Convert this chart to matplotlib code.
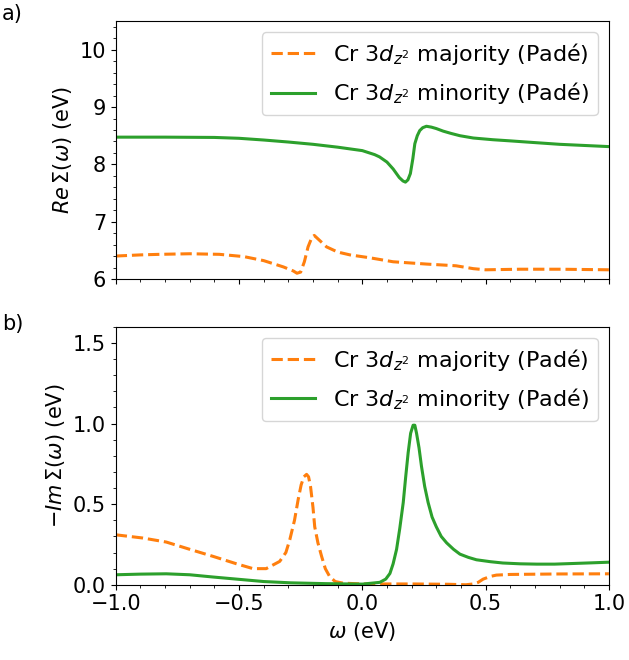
import numpy as np
import matplotlib
matplotlib.use("Agg")
from matplotlib import pyplot as plt
from matplotlib.ticker import AutoMinorLocator

# frequency grids and values
w_re_maj = [-1.0, -0.9, -0.82, -0.7, -0.58, -0.48, -0.40, -0.32, -0.28, -0.265, -0.25, -0.235,
            -0.22, -0.205, -0.195, -0.18, -0.145, -0.1, -0.05, 0.03, 0.125, 0.26, 0.38, 0.45,
            0.5, 0.64, 0.8, 1.0]
re_maj = [6.40, 6.42, 6.43, 6.44, 6.43, 6.39, 6.32, 6.21, 6.14, 6.10, 6.12, 6.30,
          6.56, 6.72, 6.76, 6.70, 6.56, 6.47, 6.42, 6.37, 6.30, 6.26, 6.23, 6.18,
          6.16, 6.17, 6.17, 6.16]

w_re_min = [-1.0, -0.8, -0.6, -0.5, -0.4, -0.3, -0.2, -0.1, 0.0, 0.05, 0.07, 0.1, 0.125,
            0.15, 0.165, 0.175, 0.185, 0.195, 0.205, 0.213, 0.223, 0.233, 0.245, 0.26,
            0.28, 0.3, 0.328, 0.36, 0.396, 0.45, 0.53, 0.6, 0.666, 0.8, 0.9, 1.0]
re_min = [8.475, 8.475, 8.47, 8.455, 8.425, 8.39, 8.35, 8.30, 8.24, 8.17, 8.13, 8.04, 7.92,
          7.77, 7.71, 7.69, 7.73, 7.84, 8.10, 8.36, 8.50, 8.59, 8.64, 8.665,
          8.65, 8.625, 8.58, 8.54, 8.50, 8.46, 8.43, 8.41, 8.39, 8.35, 8.33, 8.31]

w_im_maj = [-1.0, -0.89, -0.795, -0.70, -0.605, -0.51, -0.443, -0.39, -0.335, -0.31, -0.294,
            -0.275, -0.26, -0.248, -0.237, -0.226, -0.218, -0.21, -0.2, -0.193, -0.18, -0.165,
            -0.15, -0.132, -0.11, -0.078, 0.0, 0.2, 0.35, 0.42, 0.45, 0.47, 0.49, 0.52, 0.544,
            0.6, 0.66, 0.8, 1.0]
im_maj = [0.31, 0.29, 0.265, 0.22, 0.176, 0.13, 0.10, 0.10, 0.145, 0.20, 0.28,
          0.40, 0.53, 0.62, 0.67, 0.685, 0.67, 0.61, 0.48, 0.36, 0.26, 0.176,
          0.10, 0.05, 0.02, 0.01, 0.005, 0.005, 0.003, 0.0, 0.005, 0.015, 0.035, 0.052, 0.06,
          0.064, 0.065, 0.067, 0.068]

w_im_min = [-1.0, -0.9, -0.795, -0.70, -0.605, -0.51, -0.40, -0.29, -0.15, 0.0, 0.071, 0.095,
            0.112, 0.125, 0.139, 0.152, 0.166, 0.176, 0.186, 0.196, 0.206, 0.213, 0.22, 0.23,
            0.24, 0.253, 0.267, 0.283, 0.30, 0.32, 0.342, 0.37, 0.396, 0.43, 0.463, 0.52, 0.57,
            0.64, 0.707, 0.78, 0.855, 0.93, 1.0]
im_min = [0.062, 0.066, 0.068, 0.062, 0.048, 0.035, 0.02, 0.012, 0.007, 0.004, 0.015, 0.035,
          0.07, 0.13, 0.22, 0.35, 0.51, 0.67, 0.82, 0.94, 0.99, 0.99, 0.94, 0.85,
          0.735, 0.61, 0.51, 0.42, 0.36, 0.30, 0.26, 0.22, 0.19, 0.17, 0.155, 0.143, 0.135,
          0.13, 0.128, 0.128, 0.132, 0.136, 0.14]

lab_maj = r'Cr 3$d_{z^2}$ majority (Padé)'
lab_min = r'Cr 3$d_{z^2}$ minority (Padé)'

plt.rcParams['font.size'] = 15

fig, (ax1, ax2) = plt.subplots(2, 1, sharex=True, figsize=(6.29, 6.6), dpi=100)
fig.subplots_adjust(left=0.184, right=0.968, top=0.968, bottom=0.114, hspace=0.186)

ax1.plot(w_re_maj, re_maj, '--', color='tab:orange', lw=2.2, label=lab_maj)
ax1.plot(w_re_min, re_min, '-', color='tab:green', lw=2.2, label=lab_min)
ax1.set_xlim(-1, 1)
ax1.set_ylim(6, 10.5)
ax1.set_ylabel(r'$Re\,\Sigma(\omega)$ (eV)')
ax1.legend(loc='upper right', fontsize=16, labelspacing=0.6)
ax1.yaxis.set_minor_locator(AutoMinorLocator(5))
ax1.xaxis.set_minor_locator(AutoMinorLocator(5))

ax2.plot(w_im_maj, im_maj, '--', color='tab:orange', lw=2.2, label=lab_maj)
ax2.plot(w_im_min, im_min, '-', color='tab:green', lw=2.2, label=lab_min)
ax2.set_ylim(0, 1.6)
ax2.set_xticks([-1.0, -0.5, 0.0, 0.5, 1.0])
ax2.set_yticks([0.0, 0.5, 1.0, 1.5])
ax2.yaxis.set_minor_locator(AutoMinorLocator(5))
ax2.xaxis.set_minor_locator(AutoMinorLocator(5))
ax2.set_ylabel(r'$-Im\,\Sigma(\omega)$ (eV)')
ax2.set_xlabel(r'$\omega$ (eV)')
ax2.legend(loc='upper right', fontsize=16, labelspacing=0.6)

fig.text(0.003, 0.97, 'a)', fontsize=15)
fig.text(0.003, 0.5, 'b)', fontsize=15)

fig.savefig('out.png', dpi=100)
